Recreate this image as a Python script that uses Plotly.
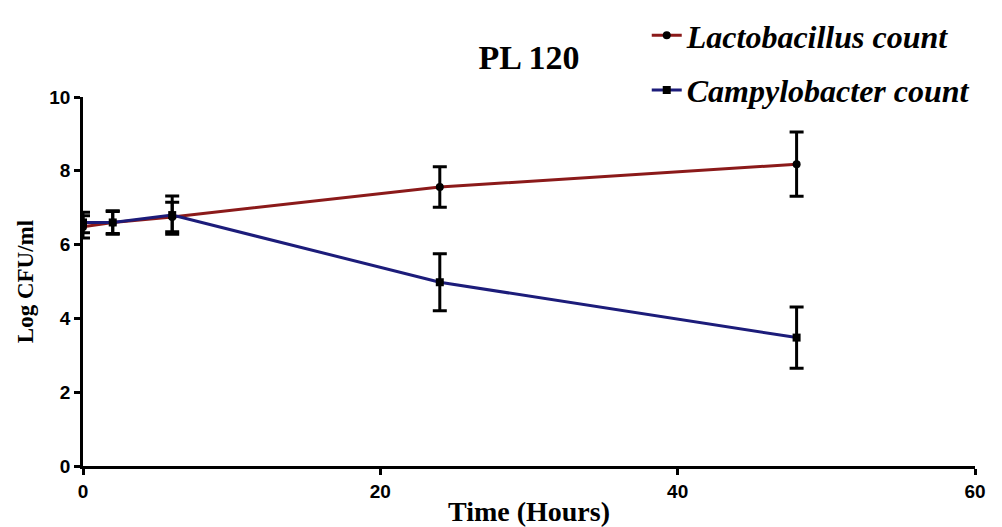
import plotly.graph_objects as go

time_h = [0, 2, 6, 24, 48]
lacto = [6.48, 6.6, 6.75, 7.56, 8.18]
lacto_err = [0.3, 0.3, 0.4, 0.55, 0.87]
campy = [6.6, 6.6, 6.8, 4.98, 3.48]
campy_err = [0.28, 0.32, 0.52, 0.77, 0.83]

fig = go.Figure()
fig.add_trace(go.Scatter(
    x=time_h, y=lacto, mode="lines+markers", name="Lactobacillus count",
    legendgroup="a",
    line=dict(color="#8b1a1a", width=3),
    marker=dict(symbol="circle", size=8, color="black"),
    error_y=dict(type="data", array=lacto_err, color="black", thickness=3, width=7),
))
fig.add_trace(go.Scatter(
    x=time_h, y=campy, mode="lines+markers", name="Campylobacter count",
    legendgroup="b",
    line=dict(color="#1c1c7a", width=3),
    marker=dict(symbol="square", size=8, color="black"),
    error_y=dict(type="data", array=campy_err, color="black", thickness=3, width=7),
))

tick_font = dict(family="Liberation Sans", size=19, color="black", weight="bold")

# The page body has an 8px margin, so the figure is sized to fit the window.
fig.update_layout(
    width=994, height=519,
    paper_bgcolor="white", plot_bgcolor="white",
    margin=dict(l=75, r=27, t=89, b=61, autoexpand=False),
    title=dict(text="<b>PL 120</b>", x=0.5, xanchor="center", xref="paper",
               y=0.906, yanchor="middle",
               font=dict(family="Liberation Serif", size=34, color="black")),
    xaxis=dict(range=[0, 60], tickvals=[0, 20, 40, 60], automargin=False,
               showline=True, linecolor="black", linewidth=2.5,
               ticks="outside", ticklen=6, tickwidth=2.5, tickcolor="black",
               showgrid=False, zeroline=False, tickfont=tick_font,
               title=dict(text="<b>Time (Hours)</b>", standoff=1,
                          font=dict(family="Liberation Serif", size=28, color="black"))),
    yaxis=dict(range=[0, 10], tickvals=[0, 2, 4, 6, 8, 10], automargin=False,
               showline=True, linecolor="black", linewidth=2.5,
               ticks="outside", ticklen=6, tickwidth=2.5, tickcolor="black",
               showgrid=False, zeroline=False, tickfont=tick_font,
               title=dict(text="<b>Log CFU/ml</b>", standoff=10,
                          font=dict(family="Liberation Serif", size=23, color="black"))),
    legend=dict(x=0.632, xanchor="left", y=1.015, yref="container", yanchor="top",
                traceorder="grouped", tracegroupgap=10, itemwidth=30,
                font=dict(family="Liberation Serif", size=32, color="black",
                          style="italic", weight="bold"),
                bgcolor="rgba(0,0,0,0)"),
    showlegend=True,
)
fig.write_html("out.html")
